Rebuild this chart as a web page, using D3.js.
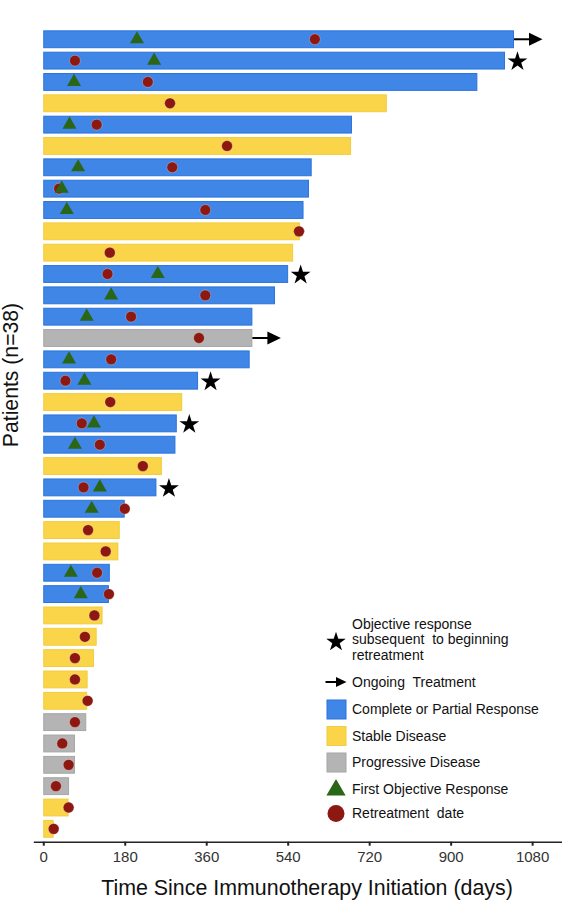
<!DOCTYPE html>
<html>
<head>
<meta charset="utf-8">
<script src="https://cdn.jsdelivr.net/npm/d3@7"></script>
<style>
  html, body { margin: 0; padding: 0; background: #fff; }
  svg { display: block; font-family: "Liberation Sans", Arial, sans-serif; }
</style>
</head>
<body>
<svg id="chart" width="562" height="900"></svg>
<script>
// ---- data (one entry per patient, top to bottom) ----
const patients = d3.range(1, 39).map(i => "P" + i);
const status = ["CR","CR","CR","SD","CR","SD","CR","CR","CR","SD",
                "SD","CR","CR","CR","PD","CR","CR","SD","CR","CR",
                "SD","CR","CR","SD","SD","CR","CR","SD","SD","SD",
                "SD","SD","PD","PD","PD","PD","SD","SD"];
const durationDays = [1040,1020,959,759,682,680,593,587,575,567,
                      552,541,512,462,462,456,342,307,295,292,
                      262,250,180,169,166,147,145,131,118,112,
                      98,97,95,70,70,57,56,23];
const retreatDays = [600,70,231,280,118,406,285,35,358,565,
                     147,142,358,194,344,150,49,148,85,125,
                     220,89,180,99,138,119,145,113,92,70,
                     70,98,70,42,56,28,56,23];
const firstResponseDays = [207,245,68,null,58,null,77,41,52,null,
                           null,253,150,96,null,57,91,null,112,70,
                           null,125,107,null,null,61,83,null,null,null,
                           null,null,null,null,null,null,null,null];
const responseAfterRetreat = [0,1,0,0,0,0,0,0,0,0,
                              0,1,0,0,0,0,1,0,1,0,
                              0,1,0,0,0,0,0,0,0,0,
                              0,0,0,0,0,0,0,0];
const ongoing = [1,0,0,0,0,0,0,0,0,0,
                 0,0,0,0,1,0,0,0,0,0,
                 0,0,0,0,0,0,0,0,0,0,
                 0,0,0,0,0,0,0,0];
const xTicks = [0, 180, 360, 540, 720, 900, 1080];
const statusLabels = {CR: "Complete or Partial Response", SD: "Stable Disease", PD: "Progressive Disease"};

// ---- styles ----
const fillColor = {CR: "#3f86e6", SD: "#fad549", PD: "#b4b4b4"};
const strokeColor = {CR: "#2b73dc", SD: "#f3cb3c", PD: "#a6a6a6"};
const redColor = "#8c1811";
const greenColor = "#2a6616";

const svg = d3.select("#chart");
const x = d3.scaleLinear().domain([-22, 1146]).range([33.3, 562]);
const y = d3.scaleBand().domain(patients).range([28.6, 839.5]);
const barH = y.bandwidth() * 0.79;
const cy = p => y(p) + y.bandwidth() / 2;

const rows = patients.map((p, i) => ({
  id: p, status: status[i], end: durationDays[i], retreat: retreatDays[i],
  first: firstResponseDays[i], star: responseAfterRetreat[i], arrow: ongoing[i]
}));

// bars
svg.append("g").selectAll("rect").data(rows).join("rect")
  .attr("x", x(0) + 0.5)
  .attr("y", d => cy(d.id) - barH / 2)
  .attr("width", d => x(d.end) - x(0) - 1)
  .attr("height", barH)
  .attr("fill", d => fillColor[d.status])
  .attr("stroke", d => strokeColor[d.status])
  .attr("stroke-width", 1);

// retreatment circles
svg.append("g").selectAll("circle").data(rows).join("circle")
  .attr("cx", d => x(d.retreat))
  .attr("cy", d => cy(d.id))
  .attr("r", 5.4)
  .attr("fill", redColor)
  .attr("stroke", "rgba(255,255,255,0.35)")
  .attr("stroke-width", 0.8);

// first objective response triangles
const tri = d3.symbol().type(d3.symbolTriangle).size(85);
svg.append("g").selectAll("path").data(rows.filter(d => d.first != null)).join("path")
  .attr("d", tri)
  .attr("transform", d => `translate(${x(d.first)},${cy(d.id)})`)
  .attr("fill", greenColor);

// stars
const star = d3.symbol().type(d3.symbolStar).size(122);
svg.append("g").selectAll("path").data(rows.filter(d => d.star)).join("path")
  .attr("d", star)
  .attr("transform", d => `translate(${x(d.end) + 12.5},${cy(d.id) + 1})`)
  .attr("fill", "#000");

// ongoing arrows
const arrows = svg.append("g").selectAll("g").data(rows.filter(d => d.arrow)).join("g")
  .attr("transform", d => `translate(${x(d.end)},${cy(d.id)})`);
arrows.append("line").attr("x1", 0).attr("x2", 17).attr("y1", 0).attr("y2", 0)
  .attr("stroke", "#000").attr("stroke-width", 2);
arrows.append("path").attr("d", "M15,-6.5L28.5,0L15,6.5Z").attr("fill", "#000");

// x axis
const axis = svg.append("g")
  .attr("transform", "translate(0,841.7)")
  .call(d3.axisBottom(x).tickValues(xTicks).tickFormat(d3.format("d"))
    .tickSize(4).tickSizeOuter(0).tickPadding(6));
axis.select(".domain").attr("stroke", "#222").attr("stroke-width", 1.5);
axis.selectAll(".tick line").attr("stroke", "#222").attr("stroke-width", 2);
axis.selectAll(".tick text")
  .attr("font-size", 15).attr("fill", "#333")
  .attr("font-family", '"Liberation Sans", Arial, sans-serif');

// axis titles
svg.append("text")
  .attr("x", 307).attr("y", 895)
  .attr("text-anchor", "middle")
  .attr("font-size", 21.4).attr("fill", "#111")
  .text("Time Since Immunotherapy Initiation (days)");
svg.append("text")
  .attr("transform", "translate(17.5,375) rotate(-90)")
  .attr("text-anchor", "middle")
  .attr("font-size", 21.2).attr("fill", "#111")
  .text("Patients (n=38)");

// legend
const lg = svg.append("g").attr("font-size", 14).attr("fill", "#111");
const lx = 336, tx = 352;
lg.append("path").attr("d", d3.symbol().type(d3.symbolStar).size(118)())
  .attr("transform", `translate(${lx},642)`).attr("fill", "#000");
["Objective response", "subsequent  to beginning", "retreatment"].forEach((t, i) => {
  lg.append("text").attr("x", tx).attr("y", 624 + i * 15.5).attr("dy", "0.35em")
    .style("white-space", "pre").text(t);
});
lg.append("line").attr("x1", 325.5).attr("x2", 338).attr("y1", 682).attr("y2", 682)
  .attr("stroke", "#000").attr("stroke-width", 2);
lg.append("path").attr("d", "M336,677L346.5,682L336,687Z").attr("fill", "#000");
lg.append("text").attr("x", tx).attr("y", 682).attr("dy", "0.35em")
  .style("white-space", "pre").text("Ongoing  Treatment");

const legendStatus = ["CR", "SD", "PD"];
const legendY = [709.5, 736, 762.5];
legendStatus.forEach((s, i) => {
  lg.append("rect").attr("x", 327).attr("y", legendY[i] - 9.5).attr("width", 19).attr("height", 19)
    .attr("fill", fillColor[s]).attr("stroke", strokeColor[s]).attr("stroke-width", 1);
  lg.append("text").attr("x", tx).attr("y", legendY[i]).attr("dy", "0.35em").text(statusLabels[s]);
});
lg.append("path").attr("d", d3.symbol().type(d3.symbolTriangle).size(160)())
  .attr("transform", `translate(${lx},790)`).attr("fill", greenColor);
lg.append("text").attr("x", tx).attr("y", 789).attr("dy", "0.35em").text("First Objective Response");
lg.append("circle").attr("cx", lx).attr("cy", 813.5).attr("r", 8.5).attr("fill", redColor);
lg.append("text").attr("x", tx).attr("y", 813.5).attr("dy", "0.35em")
  .style("white-space", "pre").text("Retreatment  date");
</script>
</body>
</html>
